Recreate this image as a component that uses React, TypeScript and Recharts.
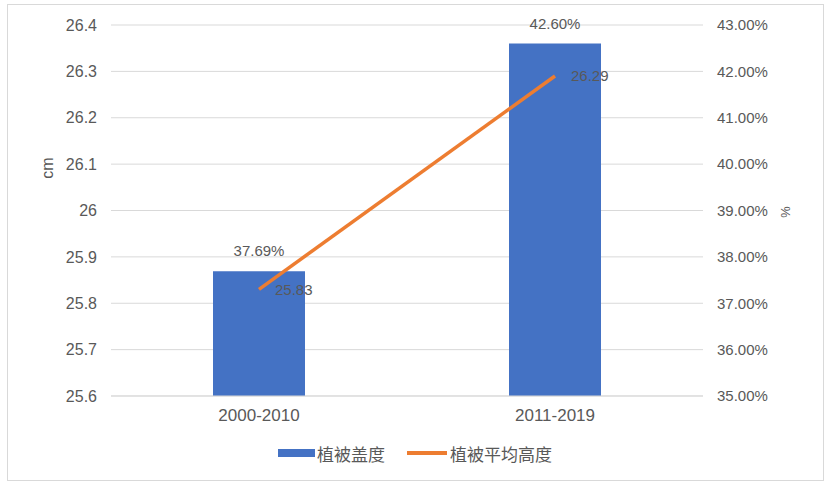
import { ComposedChart, Bar, Line, XAxis, YAxis, CartesianGrid, LabelList } from 'recharts'

const periods = ['2000-2010', '2011-2019']
const coverage = [37.69, 42.6] // 植被盖度 (%)
const meanHeight = [25.83, 26.29] // 植被平均高度 (cm)
const cmTicks = [25.6, 25.7, 25.8, 25.9, 26, 26.1, 26.2, 26.3, 26.4]
const pctTicks = [35, 36, 37, 38, 39, 40, 41, 42, 43]

const data = periods.map((p, i) => ({ period: p, coverage: coverage[i], height: meanHeight[i] }))

const BLUE = '#4472C4'
const ORANGE = '#ED7D31'
const TEXT = '#595959'
const GRID = '#D9D9D9'
const FONT = '"Liberation Sans", Arial, sans-serif'

export default function App() {
  return (
    <div style={{ position: 'absolute', left: 0, top: 0, width: 832, height: 487, background: '#fff', fontFamily: FONT }}>
      <div style={{ position: 'absolute', left: 7, top: 4, width: 815, height: 475, border: `1px solid ${GRID}` }} />
      <div style={{ position: 'absolute', left: 0, top: 0 }}>
        <ComposedChart width={832} height={487} data={data} margin={{ top: 25, right: 0, bottom: 61, left: 0 }}>
          <CartesianGrid yAxisId="cm" vertical={false} stroke={GRID} />
          <XAxis
            dataKey="period"
            height={30}
            tickLine={false}
            tickSize={0}
            tickMargin={13}
            axisLine={{ stroke: GRID }}
            tick={{ fill: TEXT, fontSize: 17 }}
          />
          <YAxis
            yAxisId="cm"
            orientation="left"
            width={111}
            domain={[25.6, 26.4]}
            ticks={cmTicks}
            tickLine={false}
            axisLine={false}
            tickSize={0}
            tickMargin={14}
            tick={{ fill: TEXT, fontSize: 16 }}
            label={{
              content: ({ viewBox }: any) => (
                <text
                  x={viewBox.x + 47}
                  y={viewBox.y + 143}
                  transform={`rotate(-90, ${viewBox.x + 47}, ${viewBox.y + 143})`}
                  textAnchor="middle"
                  dominantBaseline="central"
                  fill={TEXT}
                  fontSize={16}
                >
                  cm
                </text>
              ),
            }}
          />
          <YAxis
            yAxisId="pct"
            orientation="right"
            width={129}
            domain={[35, 43]}
            ticks={pctTicks}
            tickFormatter={(v: number) => `${v.toFixed(2)}%`}
            tickLine={false}
            axisLine={false}
            tickSize={0}
            tickMargin={14}
            tick={{ fill: TEXT, fontSize: 15 }}
            label={{
              content: ({ viewBox }: any) => (
                <text
                  x={viewBox.x + 82}
                  y={viewBox.y + 187}
                  transform={`rotate(90, ${viewBox.x + 82}, ${viewBox.y + 187})`}
                  textAnchor="middle"
                  dominantBaseline="central"
                  fill={TEXT}
                  fontSize={13}
                >
                  %
                </text>
              ),
            }}
          />
          <Bar yAxisId="pct" dataKey="coverage" name="植被盖度" fill={BLUE} barSize={92} isAnimationActive={false}>
            <LabelList
              dataKey="coverage"
              position="top"
              offset={15}
              fill={TEXT}
              fontSize={15}
              formatter={(v: any) => `${Number(v).toFixed(2)}%`}
            />
          </Bar>
          <Line
            yAxisId="cm"
            dataKey="height"
            name="植被平均高度"
            stroke={ORANGE}
            strokeWidth={3.5}
            dot={false}
            activeDot={false}
            isAnimationActive={false}
          >
            <LabelList dataKey="height" position="right" offset={16} fill={TEXT} fontSize={15} />
          </Line>
        </ComposedChart>
      </div>
      <div
        style={{
          position: 'absolute',
          left: 278,
          top: 440,
          height: 26,
          display: 'flex',
          alignItems: 'center',
          color: TEXT,
          fontSize: 17,
          fontFamily: '"Noto Sans CJK SC", sans-serif',
        }}
      >
        <span style={{ display: 'inline-block', width: 37, height: 8, background: BLUE, marginRight: 2 }} />
        <span>植被盖度</span>
        <span style={{ display: 'inline-block', width: 40, height: 3.5, background: ORANGE, marginLeft: 22, marginRight: 3 }} />
        <span>植被平均高度</span>
      </div>
    </div>
  )
}
